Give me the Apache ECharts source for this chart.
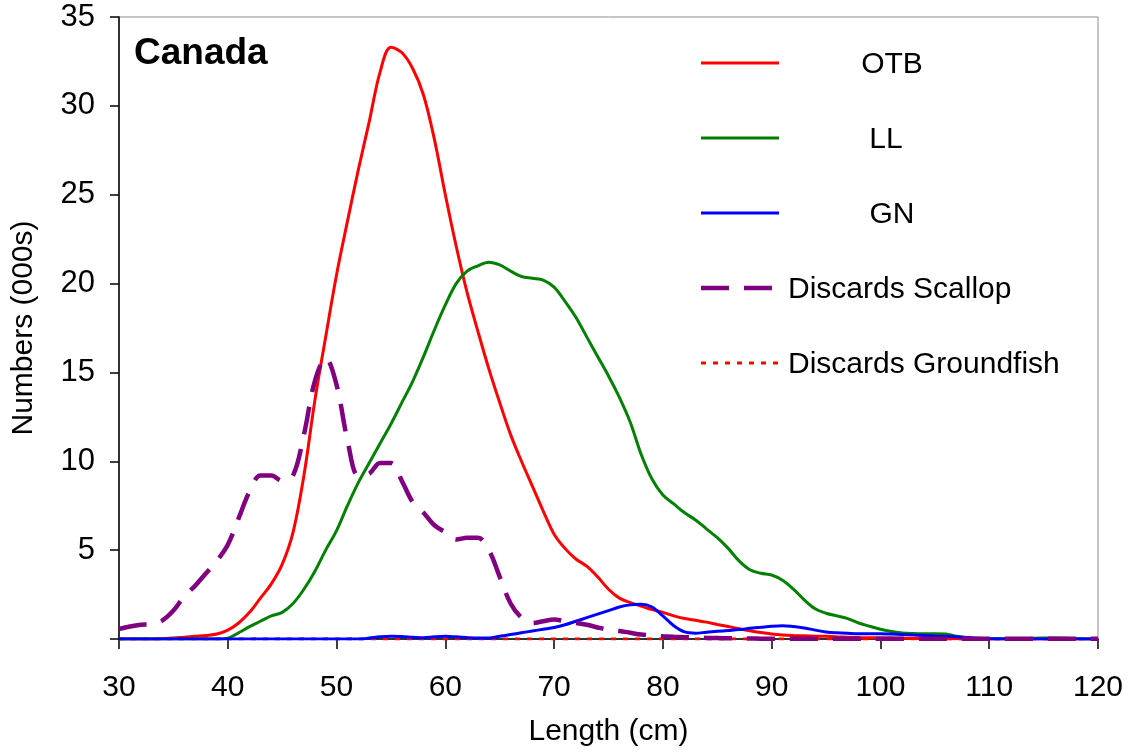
<!DOCTYPE html>
<html>
<head>
<meta charset="utf-8">
<script src="https://cdn.jsdelivr.net/npm/echarts@6/dist/echarts.min.js"></script>
<style>
  html, body { margin: 0; padding: 0; background: #fff; }
  #chart { width: 1131px; height: 752px; }
</style>
</head>
<body>
<div id="chart"></div>
<script>
// Length classes (cm), one value per centimetre from 30 to 120
const lengths = [];
for (let L = 30; L <= 120; L++) lengths.push(L);

const seriesNames = ['OTB', 'LL', 'GN', 'Discards Scallop', 'Discards Groundfish'];

// Numbers at length (000s)
const otb = [
  0, 0, 0, 0, 0.02, 0.05, 0.1, 0.15, 0.2, 0.28,
  0.5, 0.9, 1.5, 2.3, 3.1, 4.2, 6.0, 9.2, 13.4, 17.0,
  20.5, 23.5, 26.4, 29.1, 31.9, 33.3, 33.0, 32.1, 30.6, 28.1,
  25.0, 22.1, 19.5, 17.3, 15.2, 13.3, 11.5, 10.0, 8.6, 7.2,
  5.9, 5.1, 4.5, 4.1, 3.5, 2.8, 2.3, 2.05, 1.85, 1.65,
  1.5, 1.3, 1.15, 1.05, 0.95, 0.82, 0.7, 0.58, 0.46, 0.36,
  0.28, 0.23, 0.2, 0.18, 0.16, 0.15, 0.12, 0.1, 0.08, 0.07,
  0.06, 0.05, 0.04, 0.03, 0.03, 0.02, 0.01, 0.01, 0, 0,
  0, 0, 0, 0, 0, 0, 0, 0, 0, 0, 0
];
const ll = [
  0, 0, 0, 0, 0, 0, 0, 0, 0, 0,
  0.05, 0.35, 0.7, 1.0, 1.3, 1.5, 2.0, 2.8, 3.8, 5.0,
  6.1, 7.5, 8.8, 9.9, 11.0, 12.1, 13.3, 14.5, 15.9, 17.4,
  18.8, 20.0, 20.7, 21.0, 21.2, 21.05, 20.7, 20.4, 20.3, 20.2,
  19.8, 19.0, 18.1, 17.0, 15.9, 14.8, 13.6, 12.2, 10.4, 9.0,
  8.1, 7.6, 7.1, 6.7, 6.2, 5.7, 5.1, 4.4, 3.9, 3.7,
  3.6, 3.3, 2.8, 2.2, 1.7, 1.45, 1.3, 1.15, 0.9, 0.72,
  0.55, 0.42, 0.34, 0.31, 0.3, 0.3, 0.28, 0.15, 0.07, 0.03,
  0.02, 0.02, 0.02, 0.02, 0.04, 0.05, 0.05, 0.04, 0.02, 0, 0
];
const gn = [
  0, 0, 0, 0, 0, 0, 0, 0, 0, 0,
  0, 0, 0, 0, 0, 0, 0, 0, 0, 0,
  0, 0, 0, 0.05, 0.12, 0.15, 0.14, 0.1, 0.07, 0.12,
  0.15, 0.12, 0.08, 0.05, 0.05, 0.15, 0.25, 0.35, 0.45, 0.55,
  0.65, 0.8, 1.0, 1.2, 1.4, 1.6, 1.8, 1.92, 1.95, 1.8,
  1.3, 0.75, 0.4, 0.33, 0.38, 0.43, 0.48, 0.53, 0.6, 0.66,
  0.72, 0.75, 0.7, 0.62, 0.5, 0.4, 0.35, 0.32, 0.3, 0.3,
  0.3, 0.28, 0.25, 0.22, 0.2, 0.17, 0.15, 0.12, 0.08, 0.04,
  0.01, 0, 0, 0, 0, 0, 0, 0, 0, 0, 0
];
const discardsScallop = [
  0.56, 0.7, 0.8, 0.84, 1.05, 1.6, 2.4, 3.0, 3.7, 4.4,
  5.3, 6.8, 8.3, 9.2, 9.2, 8.9, 9.2, 11.5, 14.5, 15.8,
  14.3, 11.2, 9.2, 9.3, 9.9, 9.9, 8.9, 7.7, 7.1, 6.4,
  6.0, 5.6, 5.7, 5.7, 5.0, 3.5, 2.0, 1.2, 0.9, 1.0,
  1.1, 1.0, 0.9, 0.8, 0.65, 0.52, 0.45, 0.35, 0.25, 0.2,
  0.15, 0.12, 0.1, 0.08, 0.06, 0.05, 0.04, 0.03, 0.03, 0.02,
  0.02, 0.02, 0.02, 0.02, 0.02, 0.02, 0.02, 0.02, 0.02, 0.02,
  0.02, 0.02, 0.02, 0.02, 0.02, 0.02, 0.02, 0.02, 0.02, 0.02,
  0.02, 0.02, 0.02, 0.02, 0.02, 0.02, 0.02, 0.02, 0.02, 0.02, 0.02
];
const discardsGroundfish = lengths.map(() => 0);

// Axis ticks
const xTicks = [30, 40, 50, 60, 70, 80, 90, 100, 110, 120];
const yTicks = [0, 5, 10, 15, 20, 25, 30, 35];

const pairs = vals => lengths.map((L, i) => [L, vals[i]]);
const FONT = 'Liberation Sans, Arial, sans-serif';

// Line styles shared by the plotted series and the key
const styles = {
  'OTB': { color: '#ff0000', width: 3, type: 'solid' },
  'LL': { color: '#008000', width: 3, type: 'solid' },
  'GN': { color: '#0000ff', width: 3, type: 'solid' },
  'Discards Scallop': { color: '#800080', width: 4.5, type: [28, 15] },
  'Discards Groundfish': { color: '#ff0000', width: 3, type: [5, 7] }
};
const seriesData = {
  'OTB': otb, 'LL': ll, 'GN': gn,
  'Discards Scallop': discardsScallop, 'Discards Groundfish': discardsGroundfish
};

// Key: a sample line and its label for each series, stacked down the right side
const keyTop = 63, keyStep = 75, keyLineX0 = 701, keyLineX1 = 779;
const keyText = {
  'OTB': { x: 892, align: 'center' },
  'LL': { x: 886, align: 'center' },
  'GN': { x: 892, align: 'center' },
  'Discards Scallop': { x: 788, align: 'left' },
  'Discards Groundfish': { x: 788, align: 'left' }
};
const keyGraphics = [];
seriesNames.forEach((name, i) => {
  const y = keyTop + i * keyStep;
  const s = styles[name];
  keyGraphics.push({
    type: 'line', silent: true,
    shape: { x1: keyLineX0, y1: y, x2: keyLineX1, y2: y },
    style: {
      stroke: s.color, lineWidth: s.width,
      lineDash: Array.isArray(s.type) ? s.type : null, lineCap: 'butt'
    }
  });
  keyGraphics.push({
    type: 'text', silent: true, x: keyText[name].x, y: y + 2,
    style: {
      text: name, font: '30px ' + FONT, fill: '#000',
      align: keyText[name].align, verticalAlign: 'middle'
    }
  });
});

const chart = echarts.init(document.getElementById('chart'));

chart.setOption({
  animation: false,
  backgroundColor: '#ffffff',
  textStyle: { fontFamily: FONT },
  grid: {
    left: 119, right: 33, top: 17, bottom: 109,
    show: true, borderColor: '#8c8c8c', borderWidth: 1
  },
  graphic: [{
    type: 'text', x: 134, y: 54,
    style: { text: 'Canada', font: 'bold 37px ' + FONT, fill: '#000', verticalAlign: 'middle' }
  }].concat(keyGraphics),
  xAxis: {
    type: 'value', min: xTicks[0], max: xTicks[xTicks.length - 1], interval: 10,
    name: 'Length (cm)', nameLocation: 'middle', nameGap: 78,
    nameTextStyle: { fontSize: 30, color: '#000', fontFamily: FONT },
    axisLine: { lineStyle: { color: '#000', width: 1.5 } },
    axisTick: { show: true, inside: false, length: 10, lineStyle: { color: '#000', width: 1.5 } },
    axisLabel: { fontSize: 30, color: '#000', margin: 34, fontFamily: FONT },
    splitLine: { show: false }
  },
  yAxis: {
    type: 'value', min: yTicks[0], max: yTicks[yTicks.length - 1], interval: 5,
    name: 'Numbers (000s)', nameLocation: 'middle', nameGap: 80,
    nameTextStyle: { fontSize: 30, color: '#000', fontFamily: FONT },
    axisLine: { show: true, lineStyle: { color: '#000', width: 1.5 } },
    axisTick: { show: true, inside: false, length: 9, lineStyle: { color: '#000', width: 1.5 } },
    axisLabel: {
      fontSize: 31, color: '#000', margin: 24, fontFamily: FONT,
      formatter: v => (v === 0 ? '' : String(v))
    },
    splitLine: { show: false }
  },
  series: seriesNames.map(name => ({
    name: name,
    type: 'line',
    data: pairs(seriesData[name]),
    symbol: 'none',
    smooth: 0.35,
    z: name === 'Discards Groundfish' ? 2 : (name === 'Discards Scallop' ? 4 : 3),
    lineStyle: {
      color: styles[name].color, width: styles[name].width,
      type: styles[name].type, cap: 'butt'
    },
    itemStyle: { color: styles[name].color }
  }))
});
</script>
</body>
</html>
